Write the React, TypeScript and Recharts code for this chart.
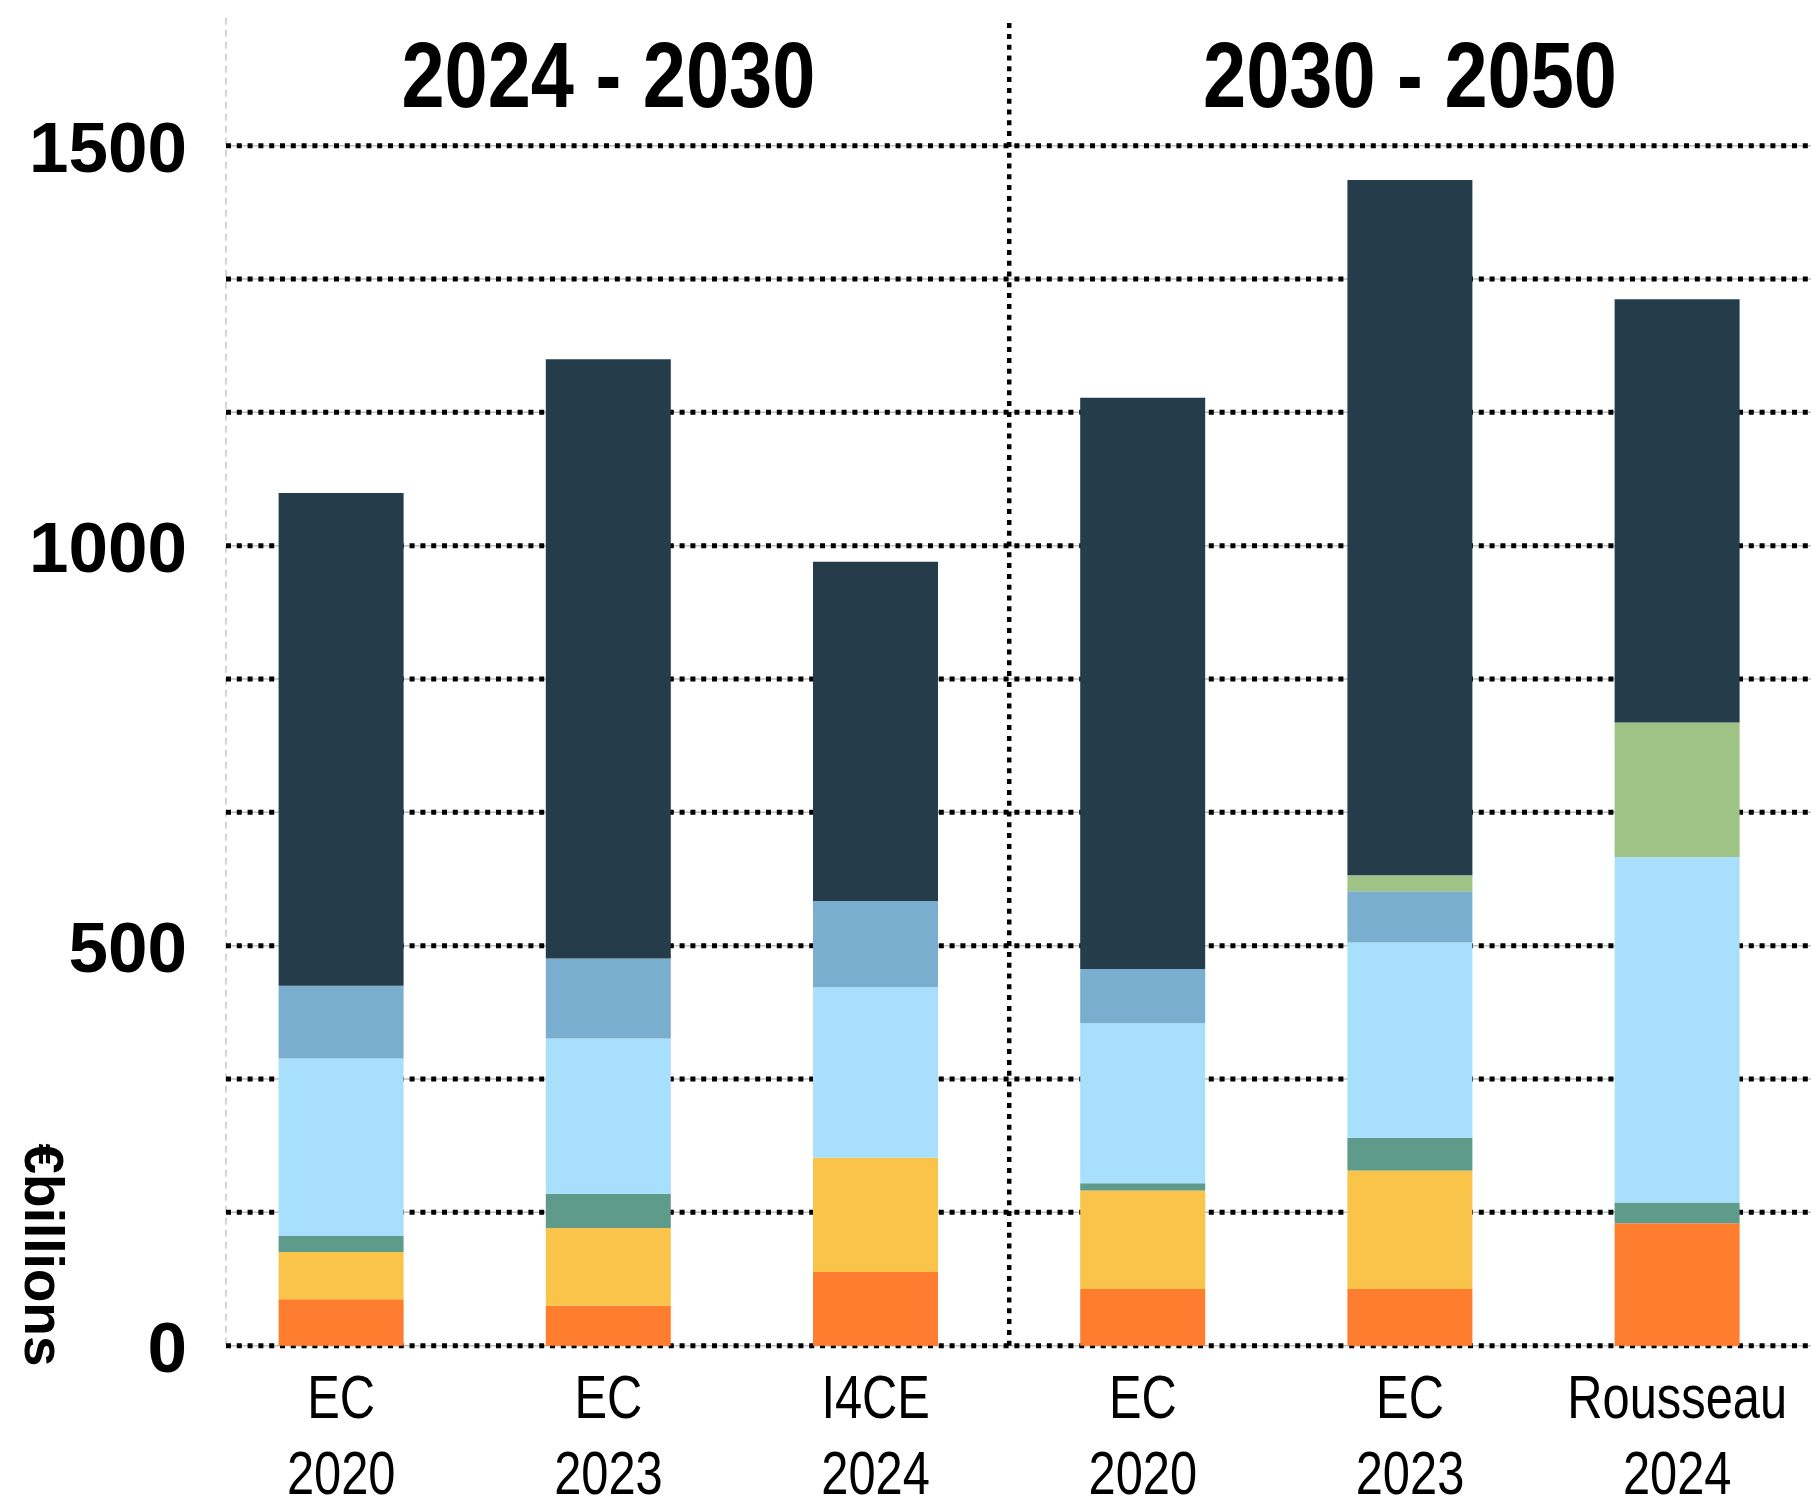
import React from "react";
import {
  BarChart,
  Bar,
  XAxis,
  YAxis,
  CartesianGrid,
  ReferenceLine,
  ReferenceArea,
} from "recharts";

// bar labels (two lines under each bar)
const sources = ["EC", "EC", "I4CE", "EC", "EC", "Rousseau"];
const years = ["2020", "2023", "2024", "2020", "2023", "2024"];

// stacked segments, bottom to top, €bn per year
const orangeVals = [58, 50, 92, 71, 71, 153];
const yellowVals = [59, 97, 143, 123, 148, 0];
const tealVals = [20, 43, 0, 9, 41, 26];
const lightBlueVals = [222, 194, 213, 200, 244, 432];
const midBlueVals = [91, 100, 108, 68, 64, 0];
const lightGreenVals = [0, 0, 0, 0, 20, 168];
const navyVals = [616, 749, 424, 714, 869, 529];

const periods = [
  { label: "2024 - 2030", from: 0, to: 3 },
  { label: "2030 - 2050", from: 3, to: 6 },
];

const Y_MAX = 1660;
const gridTicks = [0, 500 / 3, 1000 / 3, 500, 2000 / 3, 2500 / 3, 1000, 3500 / 3, 4000 / 3, 1500];
const labelTicks = [0, 500, 1000, 1500];

const series = [
  { key: "orange", vals: orangeVals, color: "#FE7D2F" },
  { key: "yellow", vals: yellowVals, color: "#F9C449" },
  { key: "teal", vals: tealVals, color: "#5F9B8A" },
  { key: "lightBlue", vals: lightBlueVals, color: "#A7DFFD" },
  { key: "midBlue", vals: midBlueVals, color: "#79AECE" },
  { key: "lightGreen", vals: lightGreenVals, color: "#9FC384" },
  { key: "navy", vals: navyVals, color: "#253C4B" },
];

const data = sources.map((s, i) => {
  const row: Record<string, any> = { slot: i, pos: i + 0.5, source: s, year: years[i] };
  series.forEach((se) => (row[se.key] = se.vals[i]));
  return row;
});

const FONT = "'Liberation Sans', Arial, sans-serif";

const XTick = (props: any) => {
  const { x, y, payload } = props;
  const i = payload.index;
  return (
    <g transform={`translate(${x},${y})`}>
      <g transform="scale(0.8,1)">
        <text x={0} y={72} textAnchor="middle" fontSize={61} fontFamily={FONT} fill="#000">
          {sources[i]}
        </text>
        <text x={0} y={148} textAnchor="middle" fontSize={61} fontFamily={FONT} fill="#000">
          {years[i]}
        </text>
      </g>
    </g>
  );
};

const YTick = (props: any) => {
  const { y, payload } = props;
  const v = Math.round(payload.value);
  if (!labelTicks.includes(v)) return null;
  return (
    <text x={187} y={y + 26} textAnchor="end" fontSize={71} fontWeight="bold" fontFamily={FONT} fill="#000">
      {v}
    </text>
  );
};

const YLabel = () => (
  <text
    x={25}
    y={1255}
    transform="rotate(90, 25, 1255)"
    textAnchor="middle"
    fontSize={55}
    fontWeight="bold"
    fontFamily={FONT}
    fill="#000"
  >
    €billions
  </text>
);

const PeriodTitle = (props: any) => {
  const { viewBox, text } = props;
  const cx = viewBox.x + viewBox.width / 2;
  return (
    <text
      x={cx}
      y={107}
      textAnchor="middle"
      fontSize={93}
      fontWeight="bold"
      fontFamily={FONT}
      textLength={414}
      lengthAdjust="spacingAndGlyphs"
      fill="#000"
    >
      {text}
    </text>
  );
};

// grid rows only at the tick values (same linear map as the value axis)
const gridRows = (args: any) => {
  const off = args?.offset;
  if (!off) return [];
  return gridTicks.map((t) => off.top + off.height * (1 - t / Y_MAX));
};

export default function App() {
  return (
    <div style={{ position: "absolute", left: 0, top: 0, width: 1811, height: 1507, background: "#fff" }}>
      <BarChart
        width={1811}
        height={1507}
        data={data}
        margin={{ top: 17.7, right: 0.2, bottom: 0, left: 0 }}
      >
        <CartesianGrid
          horizontal={false}
          verticalPoints={[226]}
          stroke="#c8c8c8"
          strokeWidth={1.5}
          strokeDasharray="7 5"
        />
        <CartesianGrid
          vertical={false}
          x={226}
          width={1585}
          horizontalCoordinatesGenerator={gridRows}
          stroke="#bdbdbd"
          strokeWidth={1.5}
        />
        <CartesianGrid
          vertical={false}
          x={226}
          width={1585}
          horizontalCoordinatesGenerator={gridRows}
          stroke="#000"
          strokeWidth={5}
          strokeDasharray="5 5.8"
        />
        <XAxis
          dataKey="slot"
          type="category"
          interval={0}
          axisLine={false}
          tickLine={false}
          tickSize={0}
          tickMargin={0}
          height={161.3}
          tick={<XTick />}
        />
        <XAxis
          xAxisId="band"
          dataKey="pos"
          type="number"
          domain={[0, 6]}
          allowDataOverflow
          hide
        />
        <YAxis
          width={207.6}
          domain={[0, Y_MAX]}
          ticks={gridTicks}
          axisLine={false}
          tickLine={false}
          tick={<YTick />}
          label={<YLabel />}
        />
        {periods.map((p) => (
          <ReferenceArea
            key={p.label}
            xAxisId="band"
            x1={p.from}
            x2={p.to}
            fill="none"
            fillOpacity={0}
            stroke="none"
            ifOverflow="visible"
            label={<PeriodTitle text={p.label} />}
          />
        ))}
        <ReferenceLine
          xAxisId="band"
          x={periods[1].from}
          stroke="#000"
          strokeWidth={4.5}
          strokeDasharray="5 5.8"
        />
        {series.map((se) => (
          <Bar
            key={se.key}
            dataKey={se.key}
            stackId="a"
            fill={se.color}
            barSize={125}
            isAnimationActive={false}
          />
        ))}
      </BarChart>
    </div>
  );
}
